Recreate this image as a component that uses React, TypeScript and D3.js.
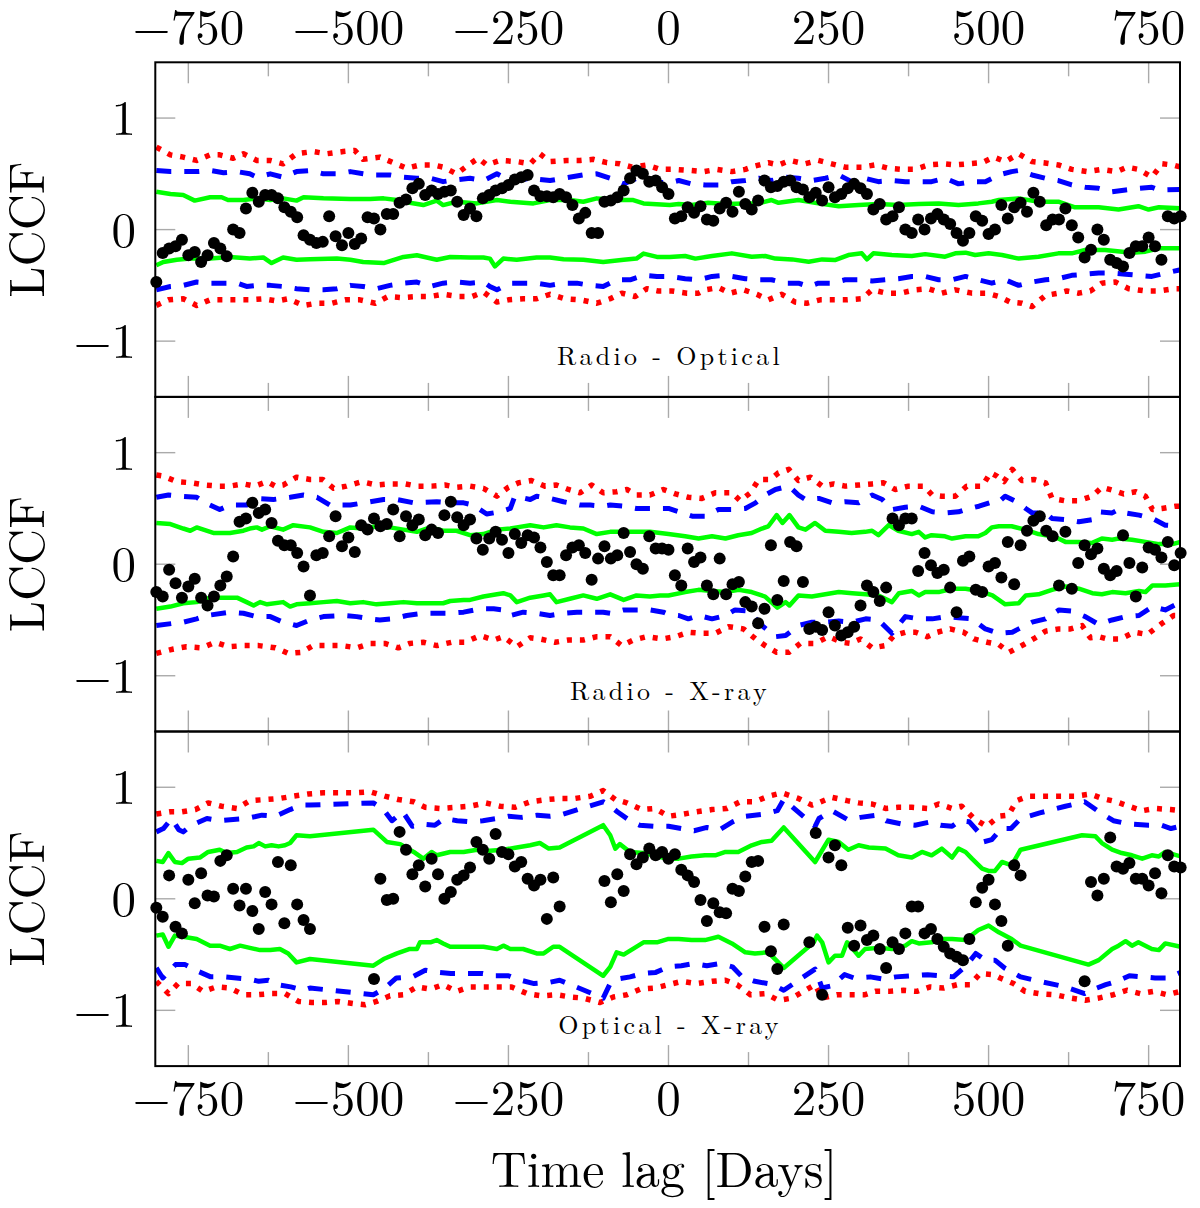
import * as d3 from 'd3';

// lag grid of the LCCF bins, days
const lags: number[] = d3.range(-800, 801, 10);

const panelLabels = ['Radio - Optical', 'Radio - X-ray', 'Optical - X-ray'];
const xMajor = [-750, -500, -250, 0, 250, 500, 750];
const xMinor = [-625, -375, -125, 125, 375, 625];
const yTicks = [-1, 0, 1];

// LCCF values, one per lag (null = no value)
const dots1 = [
  -0.47, -0.21, -0.17, -0.15, -0.09, -0.23, -0.2, -0.29, -0.23, -0.12,
  -0.17, -0.24, 0.0, -0.03, 0.19, 0.33, 0.25, 0.31, 0.31, 0.28,
  0.2, 0.16, 0.11, -0.05, -0.09, -0.12, -0.11, 0.12, -0.06, -0.14,
  -0.03, -0.13, -0.08, 0.11, 0.1, 0.0, 0.14, 0.14, 0.24, 0.27,
  0.37, 0.41, 0.31, 0.35, 0.32, 0.34, 0.35, 0.25, 0.13, 0.19,
  0.12, 0.28, 0.31, 0.35, 0.37, 0.4, 0.45, 0.47, 0.49, 0.35,
  0.3, 0.3, 0.29, 0.32, 0.29, 0.22, 0.1, 0.15, -0.03, -0.03,
  0.25, 0.26, 0.29, 0.35, 0.46, 0.53, 0.5, 0.43, 0.44, 0.38,
  0.32, 0.1, 0.12, 0.2, 0.15, 0.21, 0.09, 0.08, 0.19, 0.24,
  0.16, 0.34, 0.23, 0.18, 0.26, 0.44, 0.38, 0.39, 0.43, 0.44,
  0.38, 0.36, 0.29, 0.33, 0.26, 0.38, 0.29, 0.32, 0.37, 0.41,
  0.37, 0.32, 0.18, 0.23, 0.09, 0.12, 0.2, 0.0, -0.03, 0.09,
  0.0, 0.1, 0.14, 0.09, 0.05, -0.03, -0.1, -0.03, 0.12, 0.08,
  -0.04, 0.0, 0.22, 0.1, 0.2, 0.24, 0.16, 0.33, 0.25, 0.04,
  0.09, 0.09, 0.19, 0.04, -0.07, -0.25, -0.18, 0.0, -0.09, -0.27,
  -0.3, -0.33, -0.21, -0.15, -0.15, -0.07, -0.15, -0.27, 0.12, 0.1,
  0.12,
];
const dots2 = [
  -0.25, -0.29, -0.05, -0.17, -0.3, -0.2, -0.13, -0.3, -0.37, -0.29,
  -0.19, -0.11, 0.07, 0.38, 0.41, 0.55, 0.46, 0.49, 0.37, 0.21,
  0.17, 0.17, 0.1, -0.02, -0.28, 0.08, 0.1, 0.25, 0.43, 0.16,
  0.24, 0.11, 0.35, 0.31, 0.41, 0.34, 0.36, 0.49, 0.25, 0.43,
  0.35, 0.4, 0.26, 0.31, 0.28, 0.44, 0.56, 0.42, 0.35, 0.4,
  0.23, 0.13, 0.23, 0.29, 0.22, 0.1, 0.27, 0.19, 0.26, 0.24,
  0.15, 0.02, -0.1, -0.1, 0.08, 0.15, 0.17, 0.1, -0.14, 0.05,
  0.16, 0.05, 0.08, 0.28, 0.11, 0.0, -0.04, 0.25, 0.14, 0.14,
  0.13, -0.1, -0.19, 0.14, 0.02, 0.06, -0.19, -0.27, 0.05, -0.27,
  -0.18, -0.16, -0.34, -0.38, -0.53, -0.4, 0.17, -0.32, -0.15, 0.2,
  0.16, -0.16, -0.58, -0.56, -0.59, -0.43, -0.55, -0.64, -0.61, -0.56,
  -0.37, -0.19, -0.25, -0.33, -0.21, 0.41, 0.35, 0.41, 0.41, -0.06,
  0.1, -0.01, -0.08, -0.05, -0.21, -0.43, 0.03, 0.07, -0.23, -0.25,
  -0.02, 0.01, -0.12, 0.2, -0.18, 0.17, 0.3, 0.39, 0.43, 0.3,
  0.25, -0.19, 0.29, -0.22, 0.01, 0.17, 0.09, 0.14, -0.04, -0.1,
  -0.06, 0.26, 0.01, -0.29, -0.03, 0.15, 0.13, 0.06, 0.2, -0.01,
  0.1,
];
const dots3 = [
  -0.08, -0.16, 0.21, -0.25, -0.31, 0.17, -0.04, 0.23, 0.03, 0.02,
  0.34, 0.39, 0.09, -0.06, 0.09, -0.11, -0.27, 0.06, -0.05, 0.33,
  -0.22, 0.3, -0.05, -0.19, -0.27, null, null, null, null, null,
  null, null, null, null, -0.72, 0.18, -0.01, 0.0, 0.6, 0.44,
  0.22, 0.3, 0.11, 0.36, 0.22, 0.0, 0.06, 0.17, 0.21, 0.28,
  0.51, 0.44, 0.36, 0.58, 0.42, 0.4, 0.29, 0.33, 0.18, 0.12,
  0.17, -0.18, 0.19, -0.07, null, null, null, null, null, null,
  0.16, -0.03, 0.22, 0.07, 0.4, 0.31, 0.37, 0.45, 0.39, 0.42,
  0.36, 0.4, 0.26, 0.21, 0.15, -0.01, -0.2, -0.04, -0.12, -0.13,
  0.09, 0.07, 0.2, 0.33, 0.34, -0.25, -0.47, -0.63, -0.23, null,
  null, null, -0.39, 0.59, -0.86, 0.37, 0.48, 0.3, -0.26, -0.42,
  -0.24, -0.37, -0.33, -0.45, -0.62, -0.39, -0.45, -0.31, -0.07, -0.07,
  -0.31, -0.27, -0.36, -0.43, -0.49, -0.52, -0.55, -0.36, -0.03, 0.1,
  0.17, -0.05, -0.2, -0.42, 0.3, 0.21, null, null, null, null,
  null, null, null, null, null, -0.74, 0.15, 0.03, 0.18, 0.55,
  0.29, 0.27, 0.32, 0.18, 0.18, 0.12, 0.23, 0.05, 0.39, 0.29,
  0.28,
];

type Pt = [number, number];

// significance envelopes: green = 1 sigma, blue = 2 sigma, red = 3 sigma
const g1u: Pt[] = [[-800,0.34],[-778,0.32],[-758,0.31],[-740,0.26],[-716,0.29],[-698,0.29],[-688,0.265],[-664,0.265],[-643,0.28],[-622,0.265],[-602,0.28],[-581,0.26],[-570,0.29],[-539,0.28],[-497,0.275],[-466,0.275],[-445,0.28],[-424,0.265],[-404,0.24],[-383,0.22],[-362,0.26],[-352,0.22],[-331,0.25],[-299,0.235],[-268,0.265],[-247,0.25],[-211,0.235],[-185,0.265],[-154,0.265],[-133,0.25],[-112,0.28],[-81,0.265],[-55,0.265],[-39,0.235],[2,0.22],[16,0.23],[36,0.22],[62,0.24],[89,0.23],[120,0.235],[141,0.235],[161,0.265],[172,0.24],[203,0.265],[234,0.235],[266,0.21],[297,0.22],[328,0.23],[359,0.22],[391,0.23],[422,0.235],[453,0.22],[484,0.235],[505,0.25],[516,0.265],[547,0.28],[578,0.25],[609,0.25],[635,0.2],[672,0.2],[703,0.18],[734,0.21],[750,0.18],[766,0.2],[800,0.19]];
const g1l: Pt[] = [[-800,-0.32],[-789,-0.29],[-768,-0.27],[-747,-0.26],[-716,-0.26],[-685,-0.245],[-654,-0.26],[-633,-0.25],[-620,-0.3],[-602,-0.25],[-581,-0.27],[-560,-0.265],[-518,-0.26],[-497,-0.27],[-477,-0.29],[-445,-0.3],[-414,-0.245],[-393,-0.23],[-362,-0.27],[-341,-0.245],[-310,-0.25],[-289,-0.25],[-279,-0.26],[-271,-0.33],[-258,-0.26],[-237,-0.27],[-206,-0.25],[-185,-0.25],[-164,-0.265],[-133,-0.27],[-102,-0.29],[-70,-0.27],[-50,-0.26],[-39,-0.215],[-18,-0.245],[2,-0.245],[26,-0.237],[42,-0.26],[68,-0.237],[99,-0.213],[130,-0.243],[151,-0.237],[167,-0.26],[193,-0.267],[219,-0.288],[240,-0.267],[260,-0.273],[281,-0.228],[302,-0.213],[310,-0.267],[320,-0.213],[349,-0.228],[380,-0.237],[401,-0.22],[432,-0.243],[448,-0.213],[464,-0.207],[479,-0.228],[500,-0.213],[521,-0.228],[547,-0.26],[578,-0.243],[609,-0.213],[630,-0.213],[651,-0.183],[682,-0.183],[724,-0.207],[745,-0.198],[766,-0.168],[800,-0.168]];
const b1u: Pt[] = [[-800,0.53],[-778,0.52],[-758,0.52],[-737,0.52],[-716,0.53],[-695,0.51],[-674,0.52],[-654,0.5],[-643,0.47],[-622,0.5],[-602,0.47],[-581,0.52],[-560,0.53],[-539,0.5],[-518,0.5],[-497,0.52],[-477,0.5],[-466,0.49],[-435,0.49],[-414,0.47],[-393,0.46],[-372,0.46],[-352,0.43],[-341,0.44],[-310,0.46],[-289,0.44],[-268,0.5],[-258,0.47],[-237,0.44],[-216,0.46],[-185,0.44],[-164,0.46],[-133,0.49],[-112,0.5],[-91,0.46],[-70,0.41],[-50,0.46],[-29,0.43],[2,0.42],[16,0.44],[36,0.41],[57,0.4],[78,0.4],[99,0.43],[120,0.44],[141,0.46],[161,0.44],[182,0.47],[203,0.46],[224,0.44],[245,0.46],[266,0.49],[286,0.43],[307,0.46],[328,0.43],[349,0.44],[370,0.43],[391,0.43],[411,0.43],[432,0.46],[453,0.41],[474,0.43],[495,0.43],[516,0.49],[536,0.52],[547,0.53],[568,0.49],[589,0.46],[609,0.44],[630,0.4],[651,0.38],[672,0.37],[693,0.34],[714,0.355],[734,0.37],[755,0.38],[766,0.355],[800,0.36]];
const b1l: Pt[] = [[-800,-0.54],[-778,-0.51],[-758,-0.5],[-737,-0.47],[-716,-0.48],[-695,-0.48],[-674,-0.48],[-659,-0.51],[-643,-0.5],[-622,-0.5],[-602,-0.51],[-581,-0.53],[-560,-0.54],[-539,-0.54],[-518,-0.53],[-497,-0.5],[-477,-0.51],[-456,-0.53],[-435,-0.5],[-414,-0.48],[-393,-0.47],[-372,-0.51],[-352,-0.48],[-331,-0.47],[-310,-0.48],[-289,-0.47],[-279,-0.51],[-268,-0.54],[-247,-0.48],[-227,-0.48],[-206,-0.48],[-185,-0.5],[-164,-0.48],[-143,-0.48],[-122,-0.5],[-102,-0.51],[-81,-0.45],[-60,-0.45],[-39,-0.41],[-18,-0.42],[2,-0.42],[26,-0.44],[47,-0.45],[68,-0.42],[89,-0.41],[120,-0.44],[141,-0.45],[161,-0.45],[182,-0.48],[203,-0.48],[219,-0.51],[234,-0.48],[255,-0.48],[276,-0.45],[297,-0.45],[318,-0.46],[338,-0.45],[359,-0.44],[380,-0.42],[401,-0.42],[422,-0.45],[443,-0.45],[464,-0.42],[484,-0.45],[505,-0.48],[526,-0.45],[547,-0.5],[568,-0.47],[589,-0.45],[609,-0.44],[630,-0.41],[651,-0.4],[672,-0.39],[693,-0.39],[714,-0.4],[734,-0.41],[755,-0.42],[776,-0.39],[800,-0.36]];
const r1u: Pt[] = [[-800,0.74],[-778,0.67],[-758,0.65],[-737,0.62],[-716,0.67],[-701,0.67],[-680,0.64],[-664,0.68],[-643,0.62],[-622,0.62],[-602,0.59],[-581,0.68],[-555,0.7],[-534,0.68],[-508,0.7],[-490,0.71],[-477,0.63],[-451,0.65],[-430,0.6],[-409,0.55],[-388,0.58],[-367,0.58],[-352,0.56],[-331,0.5],[-310,0.59],[-297,0.64],[-284,0.58],[-263,0.62],[-237,0.61],[-216,0.59],[-201,0.68],[-185,0.61],[-159,0.62],[-138,0.62],[-117,0.63],[-96,0.6],[-76,0.59],[-57,0.56],[-34,0.58],[-13,0.54],[10,0.54],[34,0.53],[55,0.52],[76,0.54],[99,0.52],[120,0.54],[135,0.57],[156,0.6],[172,0.58],[190,0.62],[213,0.59],[234,0.62],[255,0.59],[276,0.56],[302,0.56],[323,0.58],[344,0.55],[365,0.54],[385,0.54],[406,0.58],[430,0.59],[448,0.58],[469,0.59],[490,0.6],[508,0.65],[526,0.61],[547,0.68],[568,0.61],[586,0.6],[609,0.58],[630,0.54],[654,0.52],[677,0.54],[700,0.52],[716,0.56],[734,0.54],[755,0.47],[771,0.59],[787,0.58],[800,0.56]];
const r1l: Pt[] = [[-800,-0.68],[-781,-0.63],[-758,-0.62],[-737,-0.68],[-716,-0.63],[-698,-0.63],[-680,-0.63],[-656,-0.63],[-633,-0.62],[-612,-0.64],[-594,-0.62],[-570,-0.68],[-549,-0.66],[-526,-0.66],[-505,-0.63],[-482,-0.63],[-458,-0.66],[-438,-0.6],[-417,-0.61],[-393,-0.6],[-372,-0.6],[-352,-0.58],[-328,-0.6],[-307,-0.6],[-289,-0.56],[-268,-0.65],[-250,-0.63],[-227,-0.62],[-206,-0.62],[-185,-0.58],[-162,-0.62],[-138,-0.63],[-112,-0.66],[-91,-0.62],[-73,-0.57],[-52,-0.6],[-34,-0.53],[-16,-0.55],[5,-0.55],[29,-0.57],[47,-0.57],[57,-0.54],[78,-0.52],[96,-0.57],[117,-0.54],[138,-0.58],[156,-0.63],[177,-0.58],[198,-0.65],[216,-0.66],[237,-0.63],[258,-0.63],[279,-0.63],[302,-0.62],[318,-0.54],[341,-0.57],[362,-0.57],[385,-0.54],[406,-0.53],[427,-0.57],[448,-0.54],[474,-0.57],[497,-0.57],[516,-0.6],[534,-0.65],[552,-0.66],[568,-0.69],[589,-0.59],[609,-0.57],[622,-0.55],[641,-0.57],[659,-0.55],[677,-0.48],[698,-0.47],[719,-0.53],[745,-0.55],[766,-0.55],[789,-0.53],[800,-0.53]];

const g2u: Pt[] = [[-800,0.37],[-778,0.36],[-758,0.32],[-747,0.3],[-737,0.33],[-711,0.28],[-685,0.28],[-664,0.3],[-654,0.32],[-643,0.33],[-635,0.31],[-622,0.34],[-602,0.31],[-586,0.35],[-560,0.33],[-539,0.29],[-518,0.28],[-497,0.33],[-477,0.32],[-456,0.34],[-435,0.33],[-414,0.31],[-393,0.29],[-372,0.33],[-352,0.3],[-331,0.3],[-310,0.26],[-289,0.27],[-268,0.31],[-247,0.32],[-237,0.33],[-216,0.35],[-195,0.33],[-175,0.35],[-154,0.33],[-133,0.32],[-112,0.27],[-91,0.29],[-70,0.29],[-50,0.29],[-29,0.29],[0,0.27],[26,0.25],[47,0.23],[68,0.25],[89,0.23],[109,0.26],[130,0.28],[146,0.32],[156,0.34],[169,0.44],[178,0.37],[189,0.44],[203,0.33],[214,0.31],[229,0.37],[245,0.3],[266,0.29],[286,0.28],[307,0.29],[318,0.3],[328,0.26],[344,0.35],[359,0.3],[380,0.27],[391,0.29],[401,0.24],[411,0.26],[432,0.25],[443,0.23],[464,0.25],[484,0.25],[495,0.28],[505,0.33],[516,0.34],[536,0.34],[557,0.31],[578,0.27],[599,0.25],[609,0.23],[620,0.2],[641,0.2],[661,0.19],[677,0.23],[693,0.22],[703,0.23],[724,0.22],[745,0.2],[766,0.18],[787,0.18],[800,0.2]];
const g2l: Pt[] = [[-800,-0.4],[-778,-0.38],[-758,-0.35],[-737,-0.34],[-716,-0.3],[-695,-0.3],[-674,-0.3],[-659,-0.34],[-648,-0.37],[-638,-0.34],[-627,-0.36],[-602,-0.34],[-591,-0.38],[-581,-0.36],[-560,-0.35],[-539,-0.34],[-518,-0.33],[-497,-0.35],[-477,-0.34],[-456,-0.36],[-435,-0.35],[-414,-0.34],[-393,-0.35],[-372,-0.35],[-352,-0.35],[-341,-0.33],[-320,-0.32],[-310,-0.32],[-289,-0.29],[-268,-0.27],[-258,-0.26],[-247,-0.28],[-237,-0.34],[-216,-0.3],[-195,-0.28],[-185,-0.27],[-175,-0.34],[-154,-0.31],[-133,-0.28],[-112,-0.31],[-91,-0.27],[-70,-0.32],[-50,-0.28],[-29,-0.29],[-13,-0.28],[0,-0.28],[26,-0.25],[47,-0.23],[68,-0.24],[89,-0.25],[110,-0.23],[130,-0.25],[151,-0.29],[170,-0.39],[183,-0.34],[189,-0.37],[203,-0.28],[224,-0.29],[245,-0.27],[266,-0.25],[287,-0.26],[308,-0.27],[328,-0.28],[349,-0.34],[360,-0.26],[380,-0.24],[391,-0.28],[401,-0.25],[422,-0.25],[443,-0.22],[464,-0.22],[485,-0.24],[506,-0.28],[526,-0.36],[547,-0.35],[558,-0.28],[578,-0.27],[599,-0.23],[620,-0.2],[641,-0.22],[662,-0.26],[677,-0.27],[693,-0.25],[714,-0.26],[735,-0.24],[745,-0.25],[756,-0.19],[776,-0.19],[800,-0.18]];
const b2u: Pt[] = [[-800,0.6],[-781,0.62],[-763,0.61],[-737,0.6],[-727,0.56],[-701,0.49],[-685,0.53],[-659,0.53],[-648,0.59],[-617,0.58],[-591,0.6],[-570,0.62],[-549,0.6],[-529,0.53],[-497,0.53],[-477,0.55],[-445,0.58],[-424,0.58],[-398,0.55],[-362,0.56],[-341,0.55],[-320,0.55],[-305,0.53],[-284,0.45],[-263,0.47],[-247,0.5],[-240,0.61],[-216,0.58],[-206,0.61],[-185,0.59],[-164,0.56],[-138,0.53],[-122,0.53],[-102,0.52],[-91,0.53],[-70,0.52],[-50,0.5],[-29,0.5],[0,0.5],[16,0.47],[37,0.43],[57,0.43],[78,0.49],[99,0.49],[120,0.5],[136,0.55],[151,0.62],[167,0.67],[188,0.7],[203,0.62],[214,0.58],[235,0.59],[256,0.55],[276,0.56],[297,0.55],[318,0.62],[334,0.58],[349,0.49],[370,0.51],[391,0.52],[412,0.47],[433,0.46],[453,0.47],[464,0.49],[485,0.52],[506,0.56],[516,0.56],[526,0.61],[547,0.55],[558,0.5],[568,0.46],[589,0.46],[599,0.41],[620,0.4],[641,0.38],[662,0.4],[672,0.47],[693,0.46],[703,0.49],[714,0.46],[735,0.44],[756,0.41],[776,0.35],[800,0.34]];
const b2l: Pt[] = [[-800,-0.55],[-773,-0.53],[-758,-0.52],[-737,-0.49],[-721,-0.46],[-685,-0.43],[-664,-0.44],[-643,-0.47],[-622,-0.47],[-602,-0.52],[-581,-0.55],[-560,-0.5],[-539,-0.47],[-508,-0.46],[-487,-0.47],[-466,-0.49],[-451,-0.5],[-430,-0.49],[-409,-0.46],[-383,-0.44],[-362,-0.44],[-341,-0.44],[-320,-0.43],[-294,-0.4],[-273,-0.4],[-258,-0.41],[-247,-0.46],[-227,-0.43],[-206,-0.44],[-185,-0.46],[-164,-0.44],[-143,-0.43],[-122,-0.43],[-102,-0.43],[-91,-0.44],[-70,-0.41],[-50,-0.41],[-29,-0.41],[-8,-0.43],[0,-0.45],[16,-0.46],[31,-0.49],[47,-0.46],[68,-0.49],[89,-0.46],[104,-0.41],[125,-0.42],[146,-0.55],[167,-0.65],[183,-0.64],[203,-0.55],[224,-0.52],[245,-0.52],[266,-0.51],[287,-0.52],[308,-0.49],[328,-0.5],[349,-0.62],[370,-0.47],[391,-0.49],[412,-0.49],[433,-0.47],[453,-0.48],[474,-0.49],[495,-0.58],[516,-0.62],[537,-0.61],[547,-0.58],[568,-0.52],[589,-0.49],[610,-0.41],[630,-0.42],[651,-0.47],[672,-0.54],[693,-0.5],[714,-0.47],[735,-0.46],[756,-0.38],[776,-0.41],[800,-0.34]];
const r2u: Pt[] = [[-800,0.8],[-789,0.79],[-768,0.74],[-745,0.73],[-724,0.71],[-703,0.7],[-685,0.7],[-664,0.72],[-646,0.7],[-627,0.74],[-614,0.7],[-602,0.71],[-581,0.78],[-560,0.76],[-540,0.76],[-523,0.68],[-503,0.7],[-479,0.74],[-456,0.71],[-435,0.72],[-411,0.72],[-393,0.7],[-370,0.7],[-349,0.71],[-331,0.69],[-310,0.7],[-289,0.68],[-268,0.61],[-250,0.69],[-234,0.73],[-214,0.75],[-193,0.7],[-175,0.71],[-156,0.67],[-138,0.64],[-120,0.71],[-102,0.64],[-81,0.65],[-65,0.67],[-50,0.62],[-29,0.62],[-8,0.67],[11,0.63],[31,0.6],[52,0.59],[73,0.64],[99,0.64],[112,0.57],[128,0.64],[141,0.76],[159,0.76],[172,0.82],[188,0.85],[203,0.75],[222,0.78],[240,0.7],[258,0.72],[276,0.7],[297,0.71],[318,0.72],[336,0.73],[354,0.67],[375,0.7],[399,0.7],[412,0.62],[427,0.61],[448,0.61],[466,0.7],[490,0.7],[503,0.82],[513,0.79],[524,0.74],[537,0.85],[552,0.75],[571,0.76],[589,0.73],[599,0.59],[618,0.57],[641,0.57],[662,0.61],[677,0.69],[696,0.66],[711,0.63],[730,0.65],[745,0.61],[756,0.49],[771,0.5],[792,0.52],[800,0.52]];
const r2l: Pt[] = [[-800,-0.8],[-773,-0.76],[-753,-0.74],[-729,-0.75],[-708,-0.7],[-687,-0.74],[-664,-0.73],[-640,-0.73],[-614,-0.75],[-594,-0.8],[-573,-0.79],[-555,-0.73],[-534,-0.73],[-510,-0.73],[-487,-0.75],[-466,-0.71],[-443,-0.71],[-422,-0.75],[-404,-0.71],[-383,-0.7],[-362,-0.73],[-339,-0.7],[-318,-0.7],[-294,-0.64],[-273,-0.68],[-258,-0.65],[-237,-0.74],[-216,-0.66],[-201,-0.67],[-177,-0.7],[-156,-0.68],[-133,-0.68],[-112,-0.65],[-91,-0.65],[-73,-0.73],[-55,-0.68],[-34,-0.65],[-10,-0.67],[11,-0.65],[31,-0.61],[52,-0.62],[73,-0.62],[94,-0.56],[117,-0.58],[136,-0.67],[151,-0.73],[169,-0.79],[188,-0.79],[206,-0.71],[229,-0.71],[250,-0.65],[271,-0.7],[284,-0.71],[300,-0.67],[318,-0.75],[339,-0.73],[352,-0.64],[370,-0.61],[386,-0.61],[404,-0.65],[420,-0.61],[440,-0.58],[461,-0.61],[477,-0.67],[498,-0.7],[516,-0.72],[532,-0.79],[555,-0.72],[573,-0.66],[589,-0.6],[610,-0.58],[628,-0.58],[646,-0.55],[659,-0.66],[672,-0.65],[685,-0.67],[706,-0.67],[727,-0.61],[748,-0.63],[771,-0.53],[789,-0.46],[800,-0.46]];

const g3u: Pt[] = [[-800,0.34],[-790,0.33],[-781,0.41],[-771,0.33],[-760,0.32],[-750,0.36],[-732,0.37],[-719,0.42],[-701,0.44],[-690,0.41],[-674,0.42],[-659,0.46],[-648,0.47],[-640,0.5],[-630,0.47],[-620,0.48],[-609,0.47],[-599,0.48],[-591,0.5],[-581,0.57],[-560,0.56],[-461,0.62],[-440,0.51],[-419,0.49],[-398,0.42],[-383,0.36],[-370,0.42],[-362,0.39],[-341,0.42],[-320,0.42],[-299,0.44],[-279,0.43],[-258,0.44],[-237,0.46],[-216,0.48],[-201,0.5],[-187,0.45],[-170,0.46],[-102,0.66],[-91,0.57],[-83,0.45],[-76,0.49],[-60,0.42],[-39,0.41],[-18,0.38],[0,0.36],[16,0.36],[36,0.38],[57,0.39],[73,0.39],[89,0.42],[109,0.42],[130,0.48],[146,0.51],[161,0.52],[180,0.64],[229,0.33],[250,0.53],[266,0.51],[281,0.44],[297,0.48],[313,0.46],[339,0.45],[359,0.39],[380,0.37],[396,0.42],[411,0.39],[427,0.45],[443,0.37],[453,0.45],[464,0.42],[474,0.36],[490,0.27],[500,0.25],[510,0.25],[521,0.33],[536,0.3],[550,0.44],[646,0.57],[667,0.56],[677,0.5],[693,0.44],[708,0.41],[724,0.39],[740,0.36],[755,0.39],[766,0.38],[776,0.42],[800,0.38]];
const g3l: Pt[] = [[-800,-0.33],[-790,-0.32],[-781,-0.43],[-771,-0.33],[-758,-0.34],[-737,-0.36],[-716,-0.42],[-701,-0.42],[-685,-0.45],[-669,-0.42],[-654,-0.44],[-638,-0.46],[-622,-0.46],[-607,-0.45],[-594,-0.49],[-581,-0.57],[-560,-0.54],[-461,-0.6],[-445,-0.54],[-424,-0.49],[-404,-0.45],[-393,-0.45],[-388,-0.39],[-372,-0.39],[-362,-0.37],[-352,-0.4],[-341,-0.43],[-310,-0.43],[-289,-0.43],[-268,-0.45],[-258,-0.42],[-247,-0.45],[-227,-0.45],[-206,-0.49],[-195,-0.49],[-180,-0.43],[-170,-0.43],[-102,-0.69],[-91,-0.61],[-81,-0.48],[-70,-0.5],[-39,-0.39],[-18,-0.39],[0,-0.36],[16,-0.36],[36,-0.37],[57,-0.37],[78,-0.34],[99,-0.4],[120,-0.48],[135,-0.49],[156,-0.48],[180,-0.62],[227,-0.39],[232,-0.33],[240,-0.39],[250,-0.57],[260,-0.51],[271,-0.51],[279,-0.39],[297,-0.51],[307,-0.45],[328,-0.44],[349,-0.45],[370,-0.42],[380,-0.38],[391,-0.4],[411,-0.39],[427,-0.36],[443,-0.36],[464,-0.37],[484,-0.28],[500,-0.24],[516,-0.3],[536,-0.36],[550,-0.42],[656,-0.59],[672,-0.55],[693,-0.45],[703,-0.42],[714,-0.38],[724,-0.42],[734,-0.39],[755,-0.45],[766,-0.46],[776,-0.4],[800,-0.43]];
const b3u: Pt[] = [[-800,0.6],[-789,0.63],[-776,0.72],[-765,0.62],[-758,0.6],[-745,0.66],[-721,0.72],[-701,0.7],[-680,0.71],[-659,0.72],[-635,0.75],[-614,0.74],[-591,0.8],[-573,0.84],[-560,0.84],[-461,0.86],[-445,0.8],[-432,0.7],[-415,0.78],[-400,0.65],[-385,0.67],[-365,0.66],[-350,0.72],[-330,0.7],[-310,0.69],[-290,0.7],[-268,0.72],[-250,0.74],[-230,0.73],[-205,0.75],[-185,0.74],[-170,0.75],[-102,0.87],[-90,0.83],[-80,0.78],[-60,0.7],[-45,0.66],[-20,0.65],[0,0.65],[20,0.63],[40,0.61],[60,0.64],[80,0.62],[100,0.69],[120,0.74],[150,0.76],[170,0.79],[180,0.89],[229,0.65],[235,0.72],[255,0.79],[280,0.71],[300,0.73],[325,0.75],[340,0.7],[365,0.67],[385,0.66],[410,0.69],[425,0.66],[443,0.65],[455,0.7],[470,0.69],[484,0.6],[492,0.51],[505,0.53],[520,0.63],[535,0.63],[550,0.72],[580,0.77],[620,0.83],[650,0.87],[670,0.79],[695,0.7],[720,0.67],[750,0.66],[770,0.66],[785,0.63],[800,0.65]];
const b3l: Pt[] = [[-800,-0.62],[-790,-0.71],[-770,-0.59],[-755,-0.59],[-735,-0.65],[-715,-0.7],[-695,-0.7],[-675,-0.71],[-655,-0.72],[-640,-0.74],[-625,-0.73],[-610,-0.77],[-590,-0.79],[-570,-0.82],[-560,-0.8],[-461,-0.86],[-445,-0.81],[-425,-0.71],[-400,-0.7],[-380,-0.64],[-360,-0.66],[-340,-0.67],[-315,-0.67],[-290,-0.67],[-270,-0.69],[-250,-0.69],[-237,-0.72],[-210,-0.76],[-187,-0.75],[-170,-0.73],[-102,-0.89],[-92,-0.77],[-80,-0.72],[-60,-0.7],[-40,-0.67],[-20,-0.66],[0,-0.61],[20,-0.6],[40,-0.58],[60,-0.6],[80,-0.58],[100,-0.61],[115,-0.7],[135,-0.74],[155,-0.76],[170,-0.79],[180,-0.82],[229,-0.63],[240,-0.8],[255,-0.78],[275,-0.68],[290,-0.71],[315,-0.7],[335,-0.72],[355,-0.7],[380,-0.69],[405,-0.68],[425,-0.69],[445,-0.7],[465,-0.6],[480,-0.49],[495,-0.55],[510,-0.55],[525,-0.62],[550,-0.7],[580,-0.74],[620,-0.79],[650,-0.85],[660,-0.82],[683,-0.77],[700,-0.74],[720,-0.69],[740,-0.7],[760,-0.71],[780,-0.71],[800,-0.66]];
const r3u: Pt[] = [[-800,0.76],[-778,0.78],[-760,0.78],[-739,0.8],[-719,0.86],[-698,0.83],[-674,0.81],[-654,0.88],[-630,0.89],[-607,0.9],[-586,0.92],[-563,0.94],[-539,0.95],[-516,0.95],[-492,0.95],[-466,0.96],[-443,0.92],[-422,0.89],[-398,0.87],[-380,0.82],[-357,0.81],[-333,0.82],[-310,0.83],[-286,0.86],[-263,0.83],[-240,0.82],[-216,0.87],[-190,0.89],[-169,0.9],[-146,0.9],[-122,0.92],[-102,0.97],[-83,0.89],[-65,0.86],[-42,0.8],[-21,0.81],[0,0.74],[24,0.76],[44,0.78],[68,0.8],[91,0.81],[112,0.87],[135,0.87],[156,0.92],[177,0.95],[203,0.9],[224,0.84],[234,0.86],[255,0.91],[279,0.88],[297,0.86],[318,0.85],[339,0.81],[359,0.82],[380,0.82],[404,0.81],[422,0.85],[443,0.81],[458,0.83],[477,0.72],[497,0.65],[516,0.74],[531,0.75],[544,0.88],[562,0.92],[586,0.92],[609,0.92],[635,0.92],[659,0.94],[677,0.9],[700,0.87],[719,0.83],[740,0.79],[760,0.81],[784,0.8],[800,0.79]];
const r3l: Pt[] = [[-800,-0.74],[-781,-0.85],[-766,-0.76],[-745,-0.76],[-727,-0.83],[-706,-0.79],[-685,-0.8],[-664,-0.86],[-643,-0.86],[-620,-0.85],[-599,-0.85],[-578,-0.92],[-557,-0.93],[-536,-0.93],[-516,-0.92],[-492,-0.94],[-474,-0.95],[-456,-0.92],[-435,-0.87],[-414,-0.86],[-393,-0.79],[-372,-0.81],[-352,-0.77],[-331,-0.83],[-310,-0.79],[-289,-0.79],[-268,-0.79],[-245,-0.79],[-221,-0.85],[-198,-0.87],[-175,-0.86],[-154,-0.88],[-133,-0.89],[-107,-0.93],[-86,-0.88],[-65,-0.86],[-44,-0.81],[-21,-0.8],[0,-0.77],[21,-0.74],[44,-0.76],[68,-0.74],[89,-0.73],[107,-0.77],[128,-0.86],[151,-0.85],[172,-0.91],[193,-0.89],[211,-0.83],[229,-0.77],[240,-0.89],[263,-0.86],[284,-0.86],[307,-0.86],[323,-0.83],[344,-0.83],[367,-0.82],[388,-0.83],[409,-0.79],[430,-0.8],[451,-0.77],[471,-0.77],[487,-0.67],[508,-0.68],[518,-0.71],[539,-0.76],[557,-0.83],[578,-0.85],[604,-0.86],[628,-0.89],[651,-0.91],[672,-0.89],[695,-0.86],[716,-0.82],[737,-0.85],[758,-0.83],[779,-0.86],[800,-0.83]];

const W = 1200;
const H = 1208;
const left = 155.3;
const right = 1180;
const top = 62.3;
const panelH = 334.6;
const font = "'Latin Modern Roman', 'CMU Serif', 'Liberation Serif', serif";
const tickColor = '#aaaaaa';

const panels = [
  { dots: dots1, gU: g1u, gL: g1l, bU: b1u, bL: b1l, rU: r1u, rL: r1l },
  { dots: dots2, gU: g2u, gL: g2l, bU: b2u, bL: b2l, rU: r2u, rL: r2l },
  { dots: dots3, gU: g3u, gL: g3l, bU: b3u, bL: b3l, rU: r3u, rL: r3l },
];

const x = d3.scaleLinear().domain([-801.6, 799]).range([left, right]);
const fmt = (v: number) => (v < 0 ? '\u2212' + Math.abs(v) : String(v));

function Panel({ i }: { i: number }) {
  const p = panels[i];
  const y0 = top + i * panelH;
  const y = d3.scaleLinear().domain([-1.5, 1.5]).range([y0 + panelH, y0]);
  const line = d3.line<Pt>().x(d => x(d[0])).y(d => y(d[1]));
  const clip = `clip${i}`;
  const envelope = (data: Pt[], color: string, width: number, dash?: string) => (
    <path d={line(data) || ''} fill="none" stroke={color} strokeWidth={width}
      strokeDasharray={dash} strokeLinejoin="round" clipPath={`url(#${clip})`} />
  );
  return (
    <g>
      <defs>
        <clipPath id={clip}>
          <rect x={left} y={y0} width={right - left} height={panelH} />
        </clipPath>
      </defs>
      {/* ticks, inward on all four sides */}
      <g stroke={tickColor} strokeWidth={1.4}>
        {xMajor.map(t => (
          <g key={'M' + t}>
            <line x1={x(t)} x2={x(t)} y1={y0} y2={y0 + 21} />
            <line x1={x(t)} x2={x(t)} y1={y0 + panelH} y2={y0 + panelH - 21} />
          </g>
        ))}
        {xMinor.map(t => (
          <g key={'m' + t}>
            <line x1={x(t)} x2={x(t)} y1={y0} y2={y0 + 14} />
            <line x1={x(t)} x2={x(t)} y1={y0 + panelH} y2={y0 + panelH - 14} />
          </g>
        ))}
        {yTicks.map(t => (
          <g key={'y' + t}>
            <line x1={left} x2={left + 20} y1={y(t)} y2={y(t)} />
            <line x1={right} x2={right - 20} y1={y(t)} y2={y(t)} />
          </g>
        ))}
      </g>
      {envelope(p.rU, '#ff0000', 5.5, '5 8')}
      {envelope(p.rL, '#ff0000', 5.5, '5 8')}
      {envelope(p.bU, '#0000ff', 5, '15 13')}
      {envelope(p.bL, '#0000ff', 5, '15 13')}
      {envelope(p.gU, '#00ff00', 4.5)}
      {envelope(p.gL, '#00ff00', 4.5)}
      <rect x={left} y={y0} width={right - left} height={panelH} fill="none" stroke="#000" strokeWidth={2} />
      {p.dots.map((v, j) =>
        v == null ? null : <circle key={j} cx={x(lags[j])} cy={y(v)} r={6} fill="#000" />
      )}
      {yTicks.map(t => (
        <text key={'yl' + t} x={136} y={y(t) + 17} textAnchor="end" fontSize={49} fontFamily={font}>
          {fmt(t)}
        </text>
      ))}
      <text transform={`translate(44, ${y(0)}) rotate(-90)`} textAnchor="middle" fontSize={50} fontFamily={font}>
        LCCF
      </text>
      <text x={670} y={y0 + 302.7} textAnchor="middle" fontSize={26} letterSpacing={3.3} fontFamily={font}>
        {panelLabels[i]}
      </text>
    </g>
  );
}

export default function App() {
  const bottom = top + 3 * panelH;
  return (
    <svg width={W} height={H} viewBox={`0 0 ${W} ${H}`} style={{ position: 'absolute', left: 0, top: 0, background: '#fff' }}>
      <rect width={W} height={H} fill="#fff" />
      {[0, 1, 2].map(i => <Panel key={i} i={i} />)}
      {xMajor.map(t => (
        <g key={'xl' + t} fontSize={49} fontFamily={font} textAnchor="middle">
          <text x={x(t)} y={43.5}>{fmt(t)}</text>
          <text x={x(t)} y={bottom + 49}>{fmt(t)}</text>
        </g>
      ))}
      <text x={664} y={1186.7} textAnchor="middle" fontSize={50} fontFamily={font}>
        Time lag [Days]
      </text>
    </svg>
  );
}
